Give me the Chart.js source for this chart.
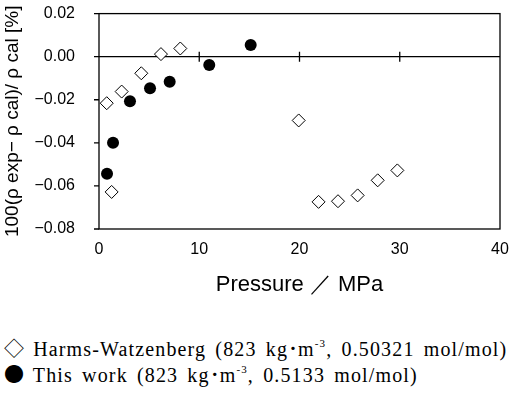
<!DOCTYPE html>
<html lang="en">
<head>
    <meta charset="UTF-8">
    <title>Density deviation</title>
    <style>
        body { margin: 0; background: #fff; width: 510px; height: 394px; position: relative; overflow: hidden; }
        #c { position: absolute; left: 0; top: 0; }
        .leg { position: absolute; left: 4px; font-family: "Liberation Serif", "Times New Roman", serif; font-size: 20px; letter-spacing: 1.15px; word-spacing: 3px; color: #000; white-space: nowrap; }
        .leg sup { font-size: 11px; vertical-align: 9px; line-height: 0; }
        .sym { font-family: "Noto Sans CJK JP", sans-serif; font-size: 20px; letter-spacing: 0; }
        .dot { font-family: "Noto Sans CJK JP", sans-serif; letter-spacing: 0; }
    </style>
</head>
<body>
    <script src="https://cdn.jsdelivr.net/npm/chart.js"></script>
    <canvas id="c" width="510" height="310"></canvas>
    <div class="leg" style="top:333px"><span class="sym">&#9671;</span> Harms-Watzenberg (823 kg<span class="dot">&#65381;</span>m<sup>-3</sup>, 0.50321 mol/mol)</div>
    <div class="leg" style="top:359px"><span class="sym">&#9679;</span> This work (823 kg<span class="dot">&#65381;</span>m<sup>-3</sup>, 0.5133 mol/mol)</div>
    <script>
        // pressure in MPa, deviation in %
        const harmsP = [0.77, 1.26, 2.26, 4.22, 6.18, 8.11, 19.92, 21.9, 23.84, 25.8, 27.8, 29.76];
        const harmsDev = [-0.0216, -0.0628, -0.0162, -0.0077, 0.0012, 0.0038, -0.0296, -0.0674, -0.0671, -0.0644, -0.0574, -0.0528];
        const workP = [0.80, 1.40, 3.09, 5.09, 7.05, 11.0, 15.13];
        const workDev = [-0.0543, -0.0400, -0.0207, -0.0147, -0.0116, -0.0039, 0.0054];
        const xTicks = [0, 10, 20, 30, 40];
        const yTicks = [0.02, 0.00, -0.02, -0.04, -0.06, -0.08];

        const H = 310;
        // frame, zero line and tick marks
        const axesPlugin = {
            id: 'axesPlugin',
            beforeDatasetsDraw(chart) {
                const ctx = chart.ctx, a = chart.chartArea;
                const xs = chart.scales.x, ys = chart.scales.y;
                ctx.save();
                ctx.strokeStyle = '#000';
                ctx.lineWidth = 1.3;
                ctx.strokeRect(a.left, a.top, a.right - a.left, a.bottom - a.top);
                const y0 = ys.getPixelForValue(0);
                ctx.beginPath();
                ctx.moveTo(a.left, y0); ctx.lineTo(a.right, y0);
                xTicks.forEach(v => {
                    if (v === 0 || v === 40) return;
                    const px = xs.getPixelForValue(v);
                    ctx.moveTo(px, y0 - 5); ctx.lineTo(px, y0 + 5);
                });
                yTicks.forEach(v => {
                    const py = ys.getPixelForValue(v);
                    ctx.moveTo(a.left - 5, py); ctx.lineTo(a.left, py);
                });
                ctx.stroke();
                ctx.restore();
            }
        };

        // tick marks themselves are drawn by the plugin, the grid only spaces the labels
        const hiddenGrid = (len) => ({ display: true, drawOnChartArea: false, drawTicks: true, tickLength: len, tickColor: 'rgba(0,0,0,0)' });

        new Chart(document.getElementById('c'), {
            type: 'scatter',
            data: {
                datasets: [{
                    label: 'Harms-Watzenberg',
                    data: harmsP.map((p, i) => ({x: p, y: harmsDev[i]})),
                    pointStyle: 'rectRot',
                    pointRadius: 6.5,
                    backgroundColor: '#fff',
                    borderColor: '#000',
                    borderWidth: 1
                }, {
                    label: 'This work',
                    data: workP.map((p, i) => ({x: p, y: workDev[i]})),
                    pointStyle: 'circle',
                    pointRadius: 6,
                    backgroundColor: '#000',
                    borderColor: '#000',
                    borderWidth: 0
                }]
            },
            options: {
                responsive: false,
                animation: false,
                layout: { padding: { top: 13, right: 10, left: 0, bottom: 0 } },
                plugins: { legend: { display: false }, tooltip: { enabled: false } },
                scales: {
                    x: {
                        min: 0, max: 40,
                        afterBuildTicks: s => { s.ticks = xTicks.map(v => ({value: v})); },
                        afterFit: s => { s.height = H - 229; },
                        grid: hiddenGrid(10),
                        border: { display: false },
                        ticks: { color: '#000', padding: 1, maxRotation: 0, font: { family: 'Liberation Sans', size: 16 } },
                        title: { display: true, text: 'Pressure ／ MPa', color: '#000', padding: { top: 0, bottom: 12 }, font: { family: 'Liberation Sans', size: 22 } }
                    },
                    y: {
                        min: -0.08, max: 0.02,
                        afterBuildTicks: s => { s.ticks = yTicks.map(v => ({value: v})); },
                        afterFit: s => { s.width = 99; },
                        grid: hiddenGrid(20),
                        border: { display: false },
                        ticks: {
                            color: '#000', padding: 4,
                            font: { family: 'Liberation Sans', size: 16 },
                            callback: v => (v < 0 ? '\u2212' : '') + Math.abs(v).toFixed(2)
                        },
                        title: { display: true, text: '100(ρ exp− ρ cal)/ ρ cal [%]', color: '#000', padding: { top: 1, bottom: 0 }, font: { family: 'Liberation Sans', size: 19 } }
                    }
                }
            },
            plugins: [axesPlugin]
        });
    </script>
</body>
</html>
